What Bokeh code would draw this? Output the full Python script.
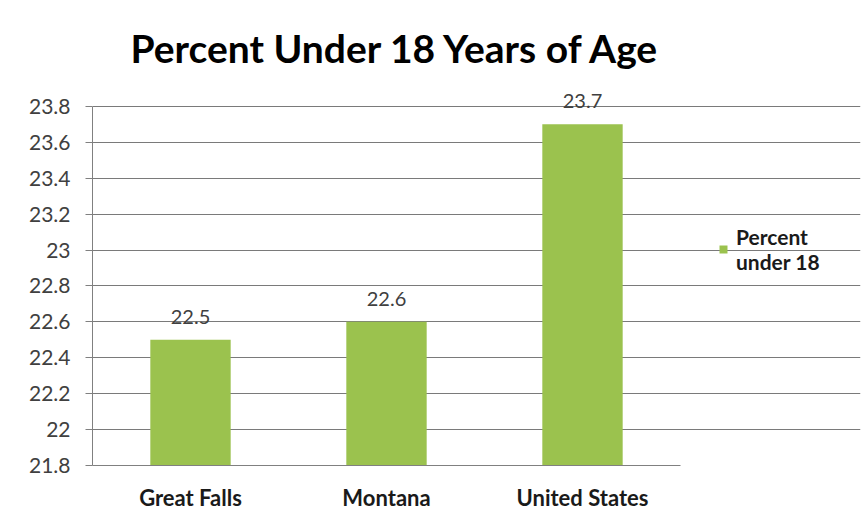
from bokeh.plotting import figure
from bokeh.models import ColumnDataSource, FixedTicker, Legend, LegendItem, LabelSet
from bokeh.core.properties import value
from bokeh.embed import file_html
from bokeh.resources import INLINE

categories = ["Great Falls", "Montana", "United States"]
values = [22.5, 22.6, 23.7]
labels = ["22.5", "22.6", "23.7"]
y_ticks = [21.8, 22.0, 22.2, 22.4, 22.6, 22.8, 23.0, 23.2, 23.4, 23.6, 23.8]
y_tick_labels = ["21.8", "22", "22.2", "22.4", "22.6", "22.8", "23", "23.2", "23.4", "23.6", "23.8"]
title_text = "Percent Under 18 Years of Age"
series_name = "Percent\nunder 18"

FONT = "Lato"
n = len(categories)
xpos = [i + 0.5 for i in range(n)]
src = ColumnDataSource(dict(x=xpos, cat=categories, val=values, lab=labels))

# frame extends to the right so the legend can sit inside it; axis/grid are bounded to the categories
p = figure(x_range=(0, n * 768 / 588), y_range=(21.8, 24.0), width=867, height=521,
           output_backend="svg", toolbar_location=None,
           min_border_left=92, min_border_right=7, min_border_top=70, min_border_bottom=56)

p.title.text = title_text
p.title.align = "left"
p.title.text_font = FONT
p.title.text_font_size = "39px"
p.title.text_font_style = "bold"
p.title.text_color = "#000000"
p.title.offset = 38
p.title.standoff = 0

r = p.vbar(x="x", top="val", bottom=21.8, width=0.41, source=src,
           fill_color="#9bc24e", line_color=None)

p.add_layout(LabelSet(x="x", y="val", text="lab", source=src, text_align="center",
                      text_baseline="bottom", y_offset=16, text_font=value(FONT),
                      text_font_size=value("20px"), text_color="#404040"))

p.yaxis.ticker = FixedTicker(ticks=y_ticks)
p.yaxis.bounds = (21.8, 23.8)
p.yaxis.major_label_overrides = {t: l for t, l in zip(y_ticks, y_tick_labels)}
p.yaxis.major_label_text_font = FONT
p.yaxis.major_label_text_font_size = "21px"
p.yaxis.major_label_text_color = "#404040"
p.yaxis.major_tick_out = 7
p.yaxis.major_tick_in = 0
p.yaxis.minor_tick_out = 0
p.yaxis.minor_tick_in = 0
p.yaxis.axis_line_color = "#808080"
p.yaxis.major_tick_line_color = "#808080"
p.yaxis.major_label_standoff = 15

p.xaxis.ticker = FixedTicker(ticks=xpos)
p.xaxis.major_label_overrides = {x: c for x, c in zip(xpos, categories)}
p.xaxis.bounds = (0, n)
p.xaxis.major_label_text_font = FONT
p.xaxis.major_label_text_font_size = "22px"
p.xaxis.major_label_text_font_style = "bold"
p.xaxis.major_label_text_color = "#1a1a1a"
p.xaxis.major_tick_line_color = None
p.xaxis.minor_tick_line_color = None
p.xaxis.axis_line_color = "#808080"
p.xaxis.major_label_standoff = 12

p.xgrid.grid_line_color = None
p.ygrid.grid_line_color = "#7a7a7a"
p.ygrid.grid_line_width = 1
p.ygrid.bounds = (0, n)
p.outline_line_color = None

legend = Legend(items=[LegendItem(label=series_name, renderers=[r])],
                location=(626, 191), border_line_color=None, background_fill_alpha=0,
                label_text_font=FONT, label_text_font_size="21px",
                label_text_font_style="bold", label_text_color="#1a1a1a",
                glyph_width=10, glyph_height=10, label_standoff=8,
                padding=0, margin=0)
p.add_layout(legend)

open("out.html", "w").write(file_html(p, INLINE))
